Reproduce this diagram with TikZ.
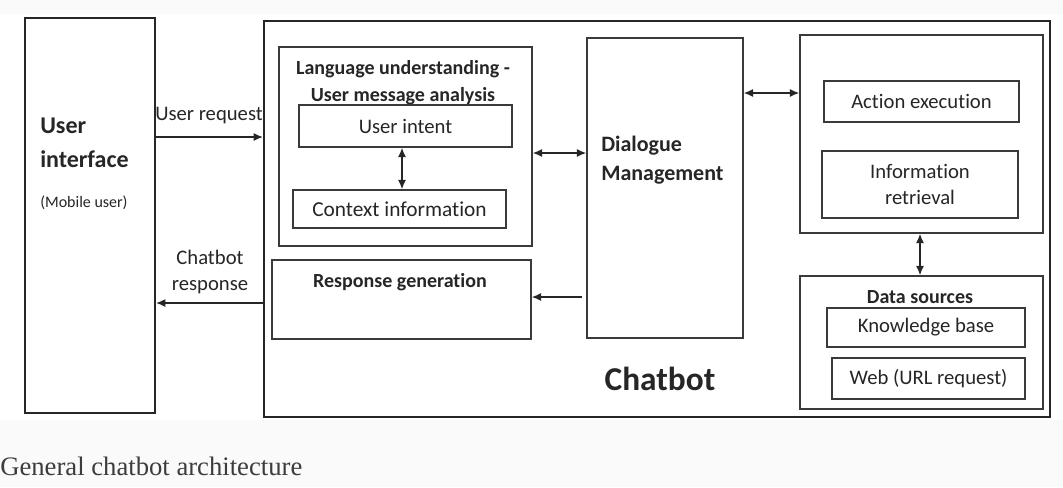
\documentclass[tikz,border=0pt]{standalone}
\usepackage{fontspec}
\setmainfont[Ligatures={NoCommon}]{Carlito}
\newfontfamily\capfont{Liberation Serif}
\usetikzlibrary{fit,arrows.meta}
\definecolor{ink}{HTML}{262626}
\definecolor{inner}{HTML}{3A3A3A}
\definecolor{pagebg}{HTML}{FAFAFA}
\begin{document}
\begin{tikzpicture}[x=0.75pt,y=-0.75pt,
  outerbox/.style={draw=ink,line width=1.6pt,fill=white,inner sep=0pt},
  midbox/.style={draw=inner,line width=1.1pt,fill=white,inner sep=0pt},
  smallbox/.style={draw=inner,line width=1.1pt,fill=white,inner sep=0pt},
  title/.style={font=\bfseries\fontsize{15}{20}\selectfont,text=ink,align=center,inner sep=0pt},
  lbl/.style={font=\fontsize{15.5}{19.5}\selectfont,text=ink,align=center,inner sep=0pt},
  arr/.style={draw=ink,line width=1pt,-{Latex[length=7pt,width=6pt]}},
  dbl/.style={draw=ink,line width=1pt,{Latex[length=7pt,width=6pt]}-{Latex[length=7pt,width=6pt]}}]
\useasboundingbox (0,0) rectangle (1063,487);
\fill[pagebg] (0,0) rectangle (1063,487);
\fill[white] (0,14) rectangle (1063,420);

% user side
\node[outerbox,fit={(25,18) (155,413)}] (ui) {};
\node[anchor=west,font=\bfseries\fontsize{18}{20}\selectfont,text=ink,inner sep=0pt] (uit1) at (40,126) {User};
\node[anchor=west,font=\bfseries\fontsize{18}{20}\selectfont,text=ink,inner sep=0pt] (uit2) at (40,159) {interface};
\node[anchor=west,font=\fontsize{12}{14}\selectfont,text=ink,inner sep=0pt] (uit3) at (40,203) {(Mobile user)};

% chatbot frame
\node[outerbox,fit={(264,21) (1050,417)}] (bot) {};
\node[font=\bfseries\fontsize{25}{28}\selectfont,text=ink,inner sep=0pt] (botname) at (660,379) {Chatbot};

% language understanding
\node[midbox,fit={(279,47) (532,246)}] (lu) {};
\node[title] (lutitle) at (403,83) {Language understanding -\\User message analysis};
\node[smallbox,fit={(299,105) (512,147)}] (intent) {};
\node[lbl] at (intent.center) {User intent};
\node[smallbox,fit={(293,190) (506,228)}] (context) {};
\node[lbl,font=\fontsize{16}{19.5}\selectfont] at (context.center) {Context information};

% response generation
\node[midbox,fit={(272,260) (531,339)}] (rg) {};
\node[title] (rgtitle) at (400,282) {Response generation};

% dialogue management
\node[midbox,fit={(587,38) (743,338)}] (dm) {};
\node[anchor=west,font=\bfseries\fontsize{16.5}{22}\selectfont,text=ink,align=left,inner sep=0pt] (dmtitle) at (601,160) {Dialogue\\Management};

% execution block
\node[midbox,fit={(800,35) (1043,233)}] (exec) {};
\node[smallbox,fit={(824,81) (1019,122)}] (action) {};
\node[lbl] at (action.center) {Action execution};
\node[smallbox,fit={(822,151) (1018,218)}] (retr) {};
\node[lbl] at (retr.center) {Information\\retrieval};

% data sources
\node[midbox,fit={(800,276) (1043,409)}] (ds) {};
\node[title] (dstitle) at (920,297) {Data sources};
\node[smallbox,fit={(827,308) (1025,347)}] (kb) {};
\node[lbl] at (kb.center) {Knowledge base};
\node[smallbox,fit={(832,358) (1025,399)}] (web) {};
\node[lbl] at (web.center) {Web (URL request)};

% connector rows and columns
\coordinate (reqrow) at (0,137);
\coordinate (resrow) at (0,303);
\coordinate (lurow) at (0,153);
\coordinate (exrow) at (0,93);
\coordinate (rgrow) at (0,297);
\coordinate (lucol) at (402,0);
\coordinate (dscol) at (920,0);

\draw[arr] (ui.east |- reqrow) -- (bot.west |- reqrow);
\node[lbl] (reqlbl) at (209,116) {User request};
\draw[arr] (bot.west |- resrow) -- (ui.east |- resrow);
\node[lbl] (reslbl) at (210,272) {Chatbot\\response};

\draw[dbl] (intent.south -| lucol) -- (context.north -| lucol);
\draw[dbl] (lu.east |- lurow) -- (dm.west |- lurow);
\draw[dbl] (dm.east |- exrow) -- (exec.west |- exrow);
\draw[dbl] (exec.south -| dscol) -- (ds.north -| dscol);
\draw[arr] ([xshift=-3pt]dm.west |- rgrow) -- (rg.east |- rgrow);

% caption
\node[anchor=west,font=\capfont\fontsize{20}{24}\selectfont,text=ink!90,inner sep=0pt] (caption) at (0,466) {General chatbot architecture};
\end{tikzpicture}
\end{document}
